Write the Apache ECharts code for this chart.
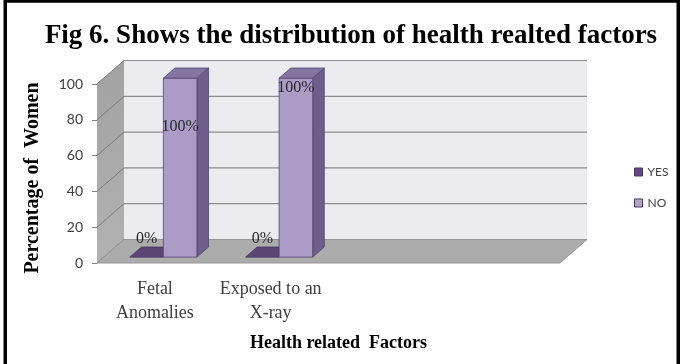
<!DOCTYPE html>
<html>
<head>
<meta charset="utf-8">
<script src="https://cdn.jsdelivr.net/npm/echarts@6/dist/echarts.min.js"></script>
<style>
  html, body { margin: 0; padding: 0; background: #ffffff; }
  #chart { width: 681px; height: 364px; }
</style>
</head>
<body>
<div id="chart"></div>
<script>
// Category axis: two factors plus two empty slots to the right
const categories = ['Fetal\nAnomalies', 'Exposed to an\nX-ray', '', ''];
const seriesNames = ['YES', 'NO'];
const yesValues = [0, 0];
const noValues = [100, 100];
const yTicks = [0, 20, 40, 60, 80, 100];

// Depth vector of the pseudo-3D box (pixels) and bar placement inside each band
const DEPTH = { x: 27, y: -23.5 };
const BAR_FRONT = 0.25;   // fraction of depth where bar fronts sit
const BAR_DEPTH = 0.43;   // fraction of depth occupied by each bar
const SLOTS = {
  YES: { start: 0.225, width: 0.29 },
  NO: { start: 0.515, width: 0.29 }
};
const COLORS = {
  YES: { front: '#5f4a7b', top: '#5a4575', side: '#4b3a66', edge: '#46365f' },
  NO: { front: '#aa9bc7', top: '#8575a3', side: '#6e5e8c', edge: '#54446f' }
};
// Pixel drop of the "100%" labels below each bar top
const noLabelDrop = [49, 10];

const chart = echarts.init(document.getElementById('chart'), null, { renderer: 'canvas' });

function wallsRenderer(params, api) {
  const cs = params.coordSys;
  const gx = cs.x, gy = cs.y, gw = cs.width, gh = cs.height;
  const dx = DEPTH.x, dy = DEPTH.y;
  const children = [];
  // back wall
  children.push({
    type: 'rect',
    shape: { x: gx + dx, y: gy + dy, width: gw, height: gh },
    style: { fill: '#ecebf0' }
  });
  // left side wall
  children.push({
    type: 'polygon',
    shape: { points: [[gx, gy], [gx + dx, gy + dy], [gx + dx, gy + gh + dy], [gx, gy + gh]] },
    style: {
      fill: new echarts.graphic.LinearGradient(0, 0, 0, 1, [
        { offset: 0, color: '#a2a2a2' },
        { offset: 1, color: '#b2b2b2' }
      ])
    }
  });
  // gridlines on both walls
  yTicks.forEach(function (v) {
    const y = api.coord([0, v])[1];
    children.push({
      type: 'line',
      shape: { x1: gx + dx, y1: y + dy, x2: gx + gw + dx, y2: y + dy },
      style: { stroke: '#8c8c8c', lineWidth: 1.2 }
    });
    children.push({
      type: 'line',
      shape: { x1: gx, y1: y, x2: gx + dx, y2: y + dy },
      style: { stroke: '#7a7a7a', lineWidth: 1 }
    });
  });
  // floor
  children.push({
    type: 'polygon',
    shape: { points: [[gx, gy + gh], [gx + dx, gy + gh + dy], [gx + gw + dx, gy + gh + dy], [gx + gw, gy + gh]] },
    style: { fill: '#acacac', stroke: '#949494', lineWidth: 1 }
  });
  return { type: 'group', children: children };
}

function barRenderer(name) {
  const slot = SLOTS[name];
  const col = COLORS[name];
  return function (params, api) {
    const cat = api.value(0);
    const val = api.value(1);
    const band = api.size([1, 0])[0];
    const base = api.coord([cat, 0]);
    const top = api.coord([cat, val]);
    const x0 = base[0] - band / 2 + band * slot.start + DEPTH.x * BAR_FRONT;
    const x1 = x0 + band * slot.width;
    const yb = base[1] + DEPTH.y * BAR_FRONT;
    const yt = top[1] + DEPTH.y * BAR_FRONT;
    const dx = DEPTH.x * BAR_DEPTH, dy = DEPTH.y * BAR_DEPTH;
    const edge = { stroke: col.edge, lineWidth: 0.8, lineJoin: 'round' };
    const children = [];
    if (yb - yt > 0.5) {
      children.push({
        type: 'polygon',
        shape: { points: [[x1, yt], [x1 + dx, yt + dy], [x1 + dx, yb + dy], [x1, yb]] },
        style: Object.assign({ fill: col.side }, edge)
      });
      children.push({
        type: 'polygon',
        shape: { points: [[x0, yt], [x1, yt], [x1, yb], [x0, yb]] },
        style: Object.assign({ fill: col.front }, edge)
      });
    }
    children.push({
      type: 'polygon',
      shape: { points: [[x0, yt], [x1, yt], [x1 + dx, yt + dy], [x0 + dx, yt + dy]] },
      style: Object.assign({ fill: col.top }, edge)
    });
    const labelY = name === 'NO' ? yt + noLabelDrop[cat] : yt - 18;
    children.push({
      type: 'text',
      style: {
        text: val + '%',
        x: (x0 + x1) / 2,
        y: labelY,
        align: 'center',
        verticalAlign: 'middle',
        fill: '#262626',
        font: '16px "Liberation Serif"'
      },
      z2: 10
    });
    return { type: 'group', children: children };
  };
}

const option = {
  animation: false,
  backgroundColor: '#ffffff',
  title: {
    text: 'Fig 6. Shows the distribution of health realted factors',
    left: 346,
    top: 18,
    textAlign: 'center',
    textStyle: { fontFamily: 'Liberation Serif', fontWeight: 'bold', fontSize: 27, color: '#000000' }
  },
  legend: {
    orient: 'vertical',
    left: 634,
    top: 166,
    itemWidth: 8,
    itemHeight: 8,
    itemGap: 19,
    padding: 0,
    textStyle: { fontFamily: 'Lato', fontSize: 12, color: '#404040' },
    data: seriesNames.map(function (n) {
      return {
        name: n,
        icon: 'rect',
        itemStyle: { color: n === 'YES' ? '#604a7b' : '#b3a2c7', borderColor: '#45355f', borderWidth: 1 }
      };
    })
  },
  grid: { left: 97, right: 121, top: 84, bottom: 101 },
  xAxis: {
    type: 'category',
    data: categories,
    axisLine: { show: false },
    axisTick: { show: false },
    axisLabel: {
      interval: 0,
      fontFamily: 'Liberation Serif',
      fontSize: 18,
      lineHeight: 24,
      color: '#404040',
      margin: 14
    },
    name: 'Health related  Factors',
    nameLocation: 'middle',
    nameGap: 71,
    nameTextStyle: {
      fontFamily: 'Liberation Serif', fontWeight: 'bold', fontSize: 18, color: '#000000',
      padding: [0, 0, 0, 20]
    }
  },
  yAxis: {
    type: 'value',
    min: yTicks[0],
    max: yTicks[yTicks.length - 1],
    interval: yTicks[1] - yTicks[0],
    axisLine: { show: true, lineStyle: { color: '#868686', width: 1 } },
    axisTick: { show: true, length: 5, lineStyle: { color: '#868686' } },
    splitLine: { show: false },
    axisLabel: { fontFamily: 'Lato', fontSize: 14, color: '#404040', margin: 14 },
    name: 'Percentage of  Women',
    nameLocation: 'middle',
    nameRotate: 90,
    nameGap: 54,
    nameTextStyle: {
      fontFamily: 'Liberation Serif', fontWeight: 'bold', fontSize: 20, color: '#000000',
      padding: [0, 9, 0, 0]
    }
  },
  graphic: [{
    type: 'rect',
    shape: { x: 5.25, y: 1, width: 673, height: 420 },
    style: { fill: 'none', stroke: '#000000', lineWidth: 3.5 },
    silent: true,
    z: 100
  }],
  series: [
    {
      type: 'custom',
      name: 'walls',
      coordinateSystem: 'cartesian2d',
      renderItem: wallsRenderer,
      data: [[0, 0]],
      silent: true,
      z: 1
    },
    {
      type: 'custom',
      name: 'YES',
      coordinateSystem: 'cartesian2d',
      renderItem: barRenderer('YES'),
      itemStyle: { color: '#604a7b' },
      data: yesValues.map(function (v, i) { return [i, v]; }),
      z: 3
    },
    {
      type: 'custom',
      name: 'NO',
      coordinateSystem: 'cartesian2d',
      renderItem: barRenderer('NO'),
      itemStyle: { color: '#b3a2c7' },
      data: noValues.map(function (v, i) { return [i, v]; }),
      z: 4
    }
  ]
};

chart.setOption(option);
</script>
</body>
</html>
